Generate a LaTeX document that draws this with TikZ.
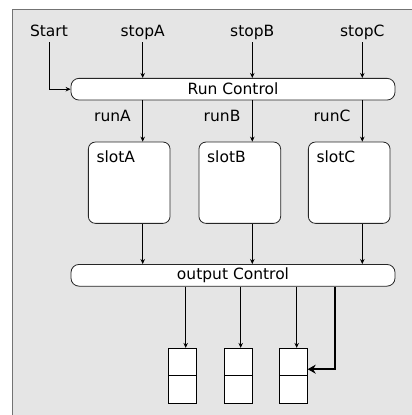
\documentclass[tikz,border=0pt]{standalone}
\usepackage{fontspec}
\setmainfont{DejaVu Sans}
\usetikzlibrary{arrows.meta,calc}
\begin{document}
\begin{tikzpicture}[x=1pt,y=-1pt,
  every node/.style={font=\fontsize{15.5}{18}\selectfont},
  lbl/.style={inner sep=1.5pt, text depth=4pt, anchor=base},
  bar/.style={draw=black!85, fill=white, rounded corners=8pt, minimum width=324pt,
              minimum height=21.7pt, inner sep=0pt, line width=0.8pt},
  slotbox/.style={draw=black!85, fill=white, rounded corners=7pt, minimum width=81.7pt,
                  minimum height=81.3pt, inner sep=0pt, line width=0.8pt},
  cell/.style={draw=black, fill=white, minimum width=28pt, minimum height=27.5pt,
               inner sep=0pt, line width=0.8pt},
  arr/.style={-{Stealth[length=5pt,width=4.5pt]}, line width=0.8pt},
  heavy/.style={-{Stealth[length=8pt,width=9pt]}, line width=2.2pt}
]
\useasboundingbox (0,0) rectangle (412,415);
% panel
\draw[draw=black!55, line width=1.2pt, fill=black!10] (12.5,9.5) rectangle (440,440);

% inputs
\node[lbl] (start) at (49,36.7) {Start};
\node[lbl] (stopA) at (142.7,36.7) {stopA};
\node[lbl] (stopB) at (252.3,36.7) {stopB};
\node[lbl] (stopC) at (362.3,36.7) {stopC};

% run control bar
\node[bar] (run) at (233,89.2) {Run Control};

% run signals
\node[anchor=base east, inner sep=0pt] (runA) at (131,121.7) {runA};
\node[anchor=base east, inner sep=0pt] (runB) at (240.6,121.7) {runB};
\node[anchor=base east, inner sep=0pt] (runC) at (350.6,121.7) {runC};

% slots
\node[slotbox] (slotA) at (129.2,182.7) {};
\node[slotbox] (slotB) at (239.8,182.7) {};
\node[slotbox] (slotC) at (349.2,182.7) {};
\node[anchor=base west, inner sep=0pt] (slotAtxt) at ($(slotA.north west)+(8.4,20.5)$) {slotA};
\node[anchor=base west, inner sep=0pt] (slotBtxt) at ($(slotB.north west)+(8.4,20.5)$) {slotB};
\node[anchor=base west, inner sep=0pt] (slotCtxt) at ($(slotC.north west)+(8.4,20.5)$) {slotC};

% output control bar
\node[bar] (out) at (233,275.3) {output Control};

% output buffers, two cells each
\node[cell] (bufA1) at (182.8,362.05) {};
\node[cell] (bufA2) at (182.8,389.55) {};
\node[cell] (bufB1) at (238.3,362.05) {};
\node[cell] (bufB2) at (238.3,389.55) {};
\node[cell] (bufC1) at (293.3,362.05) {};
\node[cell] (bufC2) at (293.3,389.55) {};

% connectors
\draw[arr] (start) |- (run.west);
\draw[arr] (stopA) -- (stopA |- run.north);
\draw[arr] (stopB) -- (stopB |- run.north);
\draw[arr] (stopC) -- (stopC |- run.north);

\draw[arr] (run.south -| stopA) -- (slotA.north -| stopA);
\draw[arr] (run.south -| stopB) -- (slotB.north -| stopB);
\draw[arr] (run.south -| stopC) -- (slotC.north -| stopC);

\draw[arr] (slotA.south -| stopA) -- (out.north -| stopA);
\draw[arr] (slotB.south -| stopB) -- (out.north -| stopB);
\draw[arr] (slotC.south -| stopC) -- (out.north -| stopC);

\coordinate (inA) at ($(bufA1.north)+(2.9,0)$);
\coordinate (inB) at ($(bufB1.north)+(2.4,0)$);
\coordinate (inC) at ($(bufC1.north)+(3.4,0)$);
\draw[arr] (out.south -| inA) -- (inA);
\draw[arr] (out.south -| inB) -- (inB);
\draw[arr] (out.south -| inC) -- (inC);

\coordinate (heavyx) at (335,0);
\coordinate (heavyin) at ($(bufC1.south east)+(0,-7)$);
\draw[heavy] (out.south -| heavyx) |- (heavyin);
\end{tikzpicture}
\end{document}
